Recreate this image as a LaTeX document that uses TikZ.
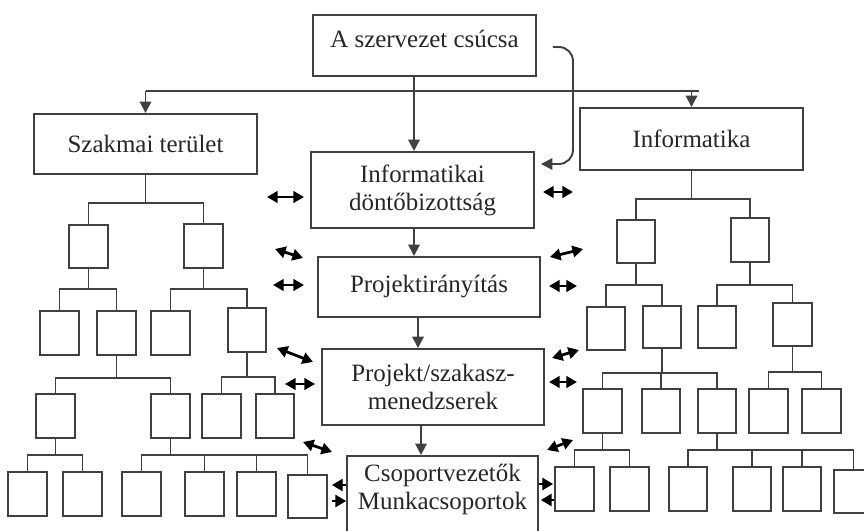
\documentclass[tikz,border=0pt]{standalone}
\usepackage{fontspec}
\setmainfont{Liberation Serif}
\usetikzlibrary{arrows.meta,calc}
\tikzset{
  ln/.style={line width=1.1pt, draw=black!75},
  arr/.style={ln, -{Triangle[length=6.5pt,width=6.5pt]}},
  dbl/.style={line width=1.6pt, draw=black, {Triangle[length=6pt,width=6.5pt]}-{Triangle[length=6pt,width=6.5pt]}},
  sarr/.style={line width=0.6pt, draw=black, -{Triangle[length=6pt,width=7pt]}},
  sbox/.style={draw=black!75, line width=1.1pt, inner sep=0pt, rectangle},
  lbl/.style={font=\fontsize{14.2}{16}\selectfont, text=black!85, align=center, inner sep=0pt}
}
\newcommand{\bx}[5]{\node[sbox, minimum width={(#4-#2)*0.02cm}, minimum height={(#5-#3)*0.02cm}] (#1) at ({(#2+#4)/2},{(#3+#5)/2}) {};}
\newcommand{\tbx}[6]{\node[sbox, lbl, minimum width={(#4-#2)*0.02cm}, minimum height={(#5-#3)*0.02cm}] (#1) at ({(#2+#4)/2},{(#3+#5)/2}) {#6};}
\newcommand{\grp}[3]{%
  \draw[ln] (#1.south) -- (#1.south |- 0,#2);
  \foreach \c in {#3} {\draw[ln] (#1.south |- 0,#2) -| (\c.north);}}
\begin{document}
\begin{tikzpicture}[x=0.02cm,y=-0.02cm]
\useasboundingbox (0,0) rectangle (864,530);
% centre column
\bx{T}{313}{15}{536}{76}
\node[lbl] (Tt) at (424.5,39) {A szervezet csúcsa};
\tbx{Sz}{34}{114}{257}{174}{Szakmai terület}
\tbx{Inf}{580}{108}{803}{170}{Informatika}
\tbx{D}{311}{152}{534}{228}{Informatikai\\döntőbizottság}
\tbx{PI}{318}{257}{540}{317}{Projektirányítás}
\tbx{PS}{322}{349}{544}{425}{Projekt/szakasz-\\menedzserek}
\bx{C}{347}{456}{538}{548}
\node[lbl] (Ct) at (442.5,489.5) {Csoportvezetők\\Munkacsoportok};
% left tree boxes
\bx{A}{69}{225}{108}{268}
\bx{B}{184}{224}{223}{268}
\bx{C1}{40}{311}{79}{355}
\bx{C2}{97}{311}{136}{355}
\bx{C3}{151}{311}{190}{355}
\bx{C4}{228}{308}{266}{352}
\bx{D1}{36}{394}{75}{438}
\bx{D2}{151}{394}{190}{438}
\bx{D3}{202}{394}{241}{438}
\bx{D4}{256}{394}{294}{438}
\bx{E1}{8}{472}{47}{516}
\bx{E2}{63}{472}{102}{516}
\bx{E3}{122}{472}{161}{516}
\bx{E4}{185}{472}{224}{516}
\bx{E5}{237}{472}{276}{516}
\bx{E6}{288}{475}{327}{518}
% right tree boxes
\bx{F1}{617}{220}{655}{263}
\bx{F2}{731}{218}{769}{262}
\bx{G1}{587}{307}{625}{350}
\bx{G2}{643}{306}{681}{348}
\bx{G3}{698}{306}{736}{348}
\bx{G4}{773}{303}{812}{346}
\bx{H1}{583}{389}{622}{433}
\bx{H2}{642}{389}{680}{433}
\bx{H3}{698}{389}{736}{433}
\bx{H4}{749}{389}{788}{433}
\bx{H5}{802}{389}{841}{433}
\bx{I1}{555}{467}{594}{511}
\bx{I2}{610}{467}{649}{511}
\bx{I3}{669}{467}{707}{511}
\bx{I4}{733}{467}{771}{511}
\bx{I5}{783}{467}{821}{511}
\bx{I6}{834}{470}{873}{513}
% trees
\grp{Sz}{203}{A,B}
\grp{A}{289}{C1,C2}
\grp{B}{289}{C3,C4}
\grp{C2}{378}{D1,D2}
\grp{C4}{377}{D3,D4}
\grp{D1}{455}{E1,E2}
\grp{D2}{455}{E3,E4,E5,E6}
\grp{Inf}{199}{F1,F2}
\grp{F1}{285}{G1,G2}
\grp{F2}{285}{G3,G4}
\grp{G2}{373}{H1,H2,H3}
\grp{G4}{372}{H4,H5}
\grp{H1}{450}{I1,I2}
\grp{H3}{450}{I3,I4,I5,I6}
% main arrows
\draw[arr] ($(T.south)+(-10.5,0)$) -- ($(D.north)+(-8.5,0)$);
\draw[arr] ($(D.south)+(-8.5,0)$) -- ($(PI.north)+(-15,0)$);
\draw[arr] ($(PI.south)+(-11,0)$) -- ($(PS.north)+(-15,0)$);
\draw[arr] ($(PS.south)+(-12,0)$) -- ($(C.north)+(-21.5,0)$);
\draw[ln] (Sz.north |- 0,91) -- ($(Inf.north |- 0,91)+(7,0)$);
\draw[arr] (Sz.north |- 0,91) -- (Sz.north);
\draw[arr] (Inf.north |- 0,91) -- (Inf.north);
\draw[arr, rounded corners=8pt] ($(T.east)+(16,1.5)$) -| ($(D.east)+(38,-26)$) -- ($(D.east)+(6,-26)$);
% double arrows
\draw[dbl] (267,197) -- (304,197);
\draw[dbl] (275,249) -- (303,258);
\draw[dbl] (273,285) -- (304,285);
\draw[dbl] (277,348) -- (313,362);
\draw[dbl] (285,384) -- (315,384);
\draw[dbl] (303,442) -- (332,452);
\draw[dbl] (543,192) -- (573,192);
\draw[dbl] (550,257) -- (583,249);
\draw[dbl] (549,286) -- (577,286);
\draw[dbl] (552,358) -- (579,350);
\draw[dbl] (549,382) -- (577,382);
\draw[dbl] (547,450) -- (573,440);
% single arrowheads at Csoport box
\draw[sarr] (C.west |- 0,485) -- ++(-14,0);
\draw[sarr] ($(C.west |- 0,501)+(-14,0)$) -- (C.west |- 0,501);
\draw[sarr] (C.east |- 0,484) -- ++(14,0);
\draw[sarr] ($(C.east |- 0,500)+(15,0)$) -- ($(C.east |- 0,500)+(2,0)$);
\end{tikzpicture}
\end{document}
